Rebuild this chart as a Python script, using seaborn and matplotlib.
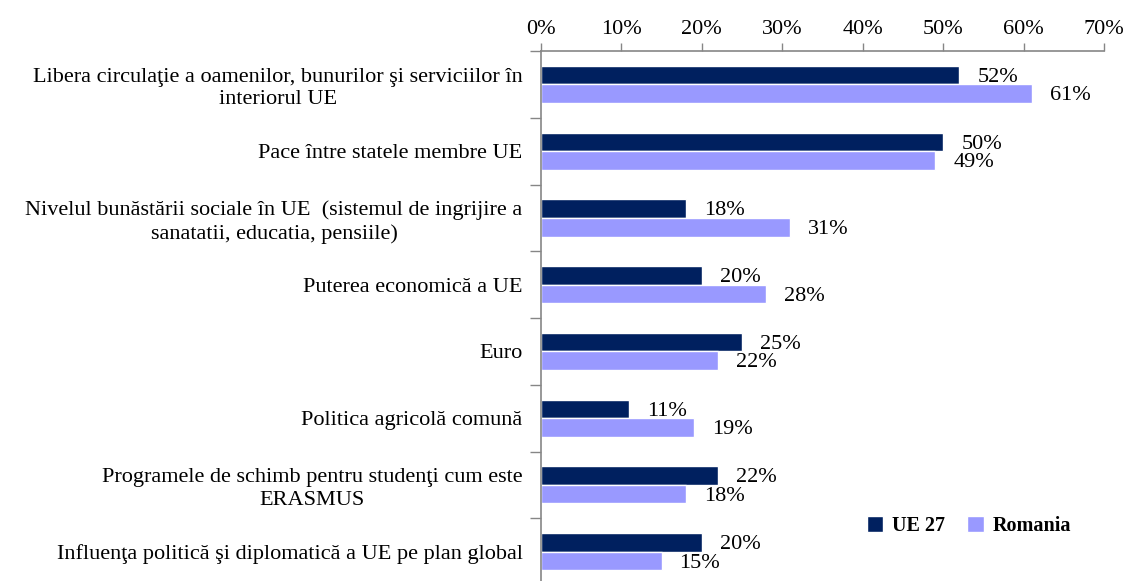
# Bar chart: UE 27 vs Romania

import pandas as pd
import seaborn as sns
import matplotlib.pyplot as plt
from matplotlib.ticker import PercentFormatter, FixedLocator

categorii = [
    "Libera circulaţie a oamenilor, bunurilor şi serviciilor în\ninteriorul UE",
    "Pace între statele membre UE",
    "Nivelul bunăstării sociale în UE  (sistemul de ingrijire a\nsanatatii, educatia, pensiile)",
    "Puterea economică a UE",
    "Euro",
    "Politica agricolă comună",
    "Programele de schimb pentru studenţi cum este\nERASMUS",
    "Influenţa politică şi diplomatică a UE pe plan global",
]
ue27 = [52, 50, 18, 20, 25, 11, 22, 20]
romania = [61, 49, 31, 28, 22, 19, 18, 15]
serii = ["UE 27", "Romania"]
culori = ["#00205F", "#9999FF"]
x_ticks = [0, 10, 20, 30, 40, 50, 60, 70]

df = pd.DataFrame({
    "categorie": categorii * 2,
    "valoare": ue27 + romania,
    "serie": [serii[0]] * len(categorii) + [serii[1]] * len(categorii),
})

sns.set_style("white")
plt.rcParams["font.family"] = ["Liberation Serif", "DejaVu Serif"]
plt.rcParams["text.color"] = "black"
plt.rcParams["xtick.labelcolor"] = "black"
plt.rcParams["ytick.labelcolor"] = "black"
fs = 16

fig = plt.figure(figsize=(11.29, 5.81), dpi=100)
ax = fig.add_axes([0.479, -0.007, 0.499, 0.919])

sns.barplot(data=df, y="categorie", x="valoare", hue="serie", orient="h",
            palette=culori, width=0.555, saturation=1, ax=ax)

# etichete valori
for cont in ax.containers:
    for p in cont:
        w = p.get_width()
        yc = p.get_y() + p.get_height() / 2
        ax.annotate(f"{w:.0f}%", (w, yc), xytext=(13, -1.5), textcoords="offset points",
                    ha="left", va="center", fontsize=fs, color="black")

# axa x sus
ax.set_xlim(0, 70)
ax.xaxis.tick_top()
ax.xaxis.set_major_locator(FixedLocator(x_ticks))
ax.xaxis.set_major_formatter(PercentFormatter(decimals=0))
ax.tick_params(axis="x", which="major", top=True, bottom=False, length=6, width=1,
               color="#868686", labelsize=fs, pad=3)

# axa y: etichete centrate, linii de separare intre categorii
ax.set_ylim(len(categorii) - 0.5, -0.5)
ax.set_yticks([i - 0.5 for i in range(len(categorii) + 1)], minor=True)
ax.tick_params(axis="y", which="minor", left=True, length=8, width=1, color="#868686")
ax.tick_params(axis="y", which="major", left=False, length=0, labelsize=fs, pad=13)
for lbl in ax.get_yticklabels():
    lbl.set_multialignment("center")
    lbl.set_linespacing(1.25)

for s in ["bottom", "right"]:
    ax.spines[s].set_visible(False)
for s in ["top", "left"]:
    ax.spines[s].set_color("#868686")
    ax.spines[s].set_linewidth(1.2)

ax.set_xlabel("")
ax.set_ylabel("")

handles, labels = ax.get_legend_handles_labels()
ax.legend(handles, labels, loc="center left", bbox_to_anchor=(0.752, 0.095),
          bbox_transform=fig.transFigure, ncol=2, frameon=False,
          handlelength=0.8, handleheight=0.8, handletextpad=0.45, columnspacing=1.1,
          prop={"weight": "bold", "size": 14.5})

fig.savefig("out.png", dpi=100)
